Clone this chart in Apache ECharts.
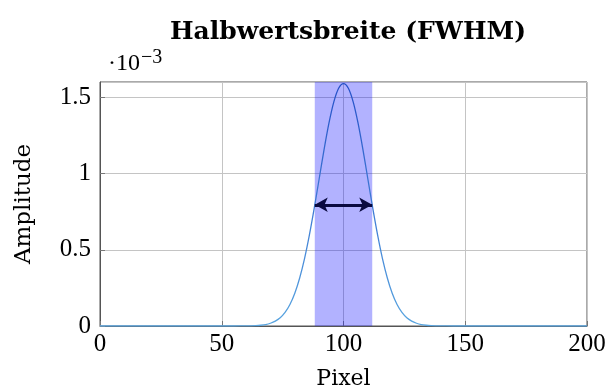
<!DOCTYPE html>
<html>
<head>
<meta charset="utf-8">
<script src="https://cdn.jsdelivr.net/npm/echarts@6/dist/echarts.min.js"></script>
<style>html,body{margin:0;padding:0;background:#fff}#c{width:608px;height:392px}</style>
</head>
<body>
<div id="c"></div>
<script>
// Data (amplitude in units of 10^-3)
const pixel = [0,10,20,30,40,50,55,60,62,64,66,68,70,72,74,76,78,80,82,84,86,88,90,92,94,96,98,100,
  102,104,106,108,110,112,114,116,118,120,122,124,126,128,130,132,134,136,138,140,145,150,160,170,180,190,200];
const amplitude = [0,0,0,0,0,0,0.0001,0.0005,0.0012,0.0024,0.005,0.0095,0.018,0.032,0.054,0.089,0.141,0.215,0.315,0.442,0.597,0.774,0.964,1.155,1.328,1.468,1.559,1.590,
  1.559,1.468,1.328,1.155,0.964,0.774,0.597,0.442,0.315,0.215,0.141,0.089,0.054,0.032,0.018,0.0095,0.005,0.0024,0.0012,0.0005,0.0001,0,0,0,0,0,0];
const fwhmRange = [88.2, 111.8];
const halfMax = 0.795;
const xTicks = [0,50,100,150,200];
const yTicks = [0,0.5,1,1.5];

const chart = echarts.init(document.getElementById('c'), null, {renderer:'canvas'});
const font = 'Liberation Serif';
const font2 = 'DejaVu Serif';
const seriesData = pixel.map((x,i)=>[x, amplitude[i]]);
chart.setOption({
  animation:false,
  title:{text:'Halbwertsbreite (FWHM)', left:343, top:15, textAlign:'center',
    textStyle:{fontFamily:font2, fontWeight:'bold', fontSize:25, color:'#000'}},
  grid:{left:100, right:21, top:82, bottom:66, show:true, borderColor:'#555', borderWidth:1,
    containLabel:false, outerBoundsMode:'none'},
  graphic:[{type:'text', left:108, top:48, style:{
    text:'{a|·10}{b|−3}', rich:{a:{fontFamily:font,fontSize:24,fill:'#000'},b:{fontFamily:font,fontSize:20,fill:'#000',verticalAlign:'top',padding:[0,0,12,1]}}}}],
  xAxis:{type:'value', min:0, max:200, interval:50,
    name:'Pixel', nameLocation:'middle', nameGap:42,
    nameTextStyle:{fontFamily:font2, fontSize:22, color:'#000'},
    axisLine:{show:true, onZero:false, lineStyle:{color:'#555'}},
    axisTick:{show:true, inside:true, length:5, lineStyle:{color:'#777'}},
    axisLabel:{fontFamily:font, fontSize:25, color:'#000', margin:6,
      formatter:v=>xTicks.includes(v)?String(v):''},
    splitLine:{show:true, lineStyle:{color:'#c4c4c4', width:1}}},
  yAxis:{type:'value', min:0, max:1.6, interval:0.5,
    name:'Amplitude', nameLocation:'middle', nameGap:64, nameRotate:90,
    nameTextStyle:{fontFamily:font2, fontSize:23, color:'#000'},
    axisLine:{show:true, lineStyle:{color:'#555'}},
    axisTick:{show:true, inside:true, length:5, lineStyle:{color:'#777'}},
    axisLabel:{fontFamily:font, fontSize:25, color:'#000', margin:9, showMaxLabel:false,
      formatter:v=>yTicks.includes(v)?String(v):''},
    splitLine:{show:true, lineStyle:{color:'#c4c4c4', width:1}}},
  series:[{
    type:'line', data:seriesData, symbol:'none', smooth:0.3, z:3,
    lineStyle:{width:1.3, color:new echarts.graphic.LinearGradient(0,0,0,1,[
      {offset:0,color:'#2550c8'},{offset:1,color:'#5aa6e0'}])},
    markArea:{silent:true, itemStyle:{color:'rgba(0,0,255,0.3)'},
      data:[[{xAxis:fwhmRange[0]},{xAxis:fwhmRange[1]}]]},
    markLine:{silent:true, symbol:['arrow','arrow'], symbolSize:[11,13],
      lineStyle:{color:'#0a0a40', width:3, type:'solid'}, label:{show:false},
      data:[[{coord:[fwhmRange[0],halfMax]},{coord:[fwhmRange[1],halfMax]}]]}
  }]
});
</script>
</body>
</html>
